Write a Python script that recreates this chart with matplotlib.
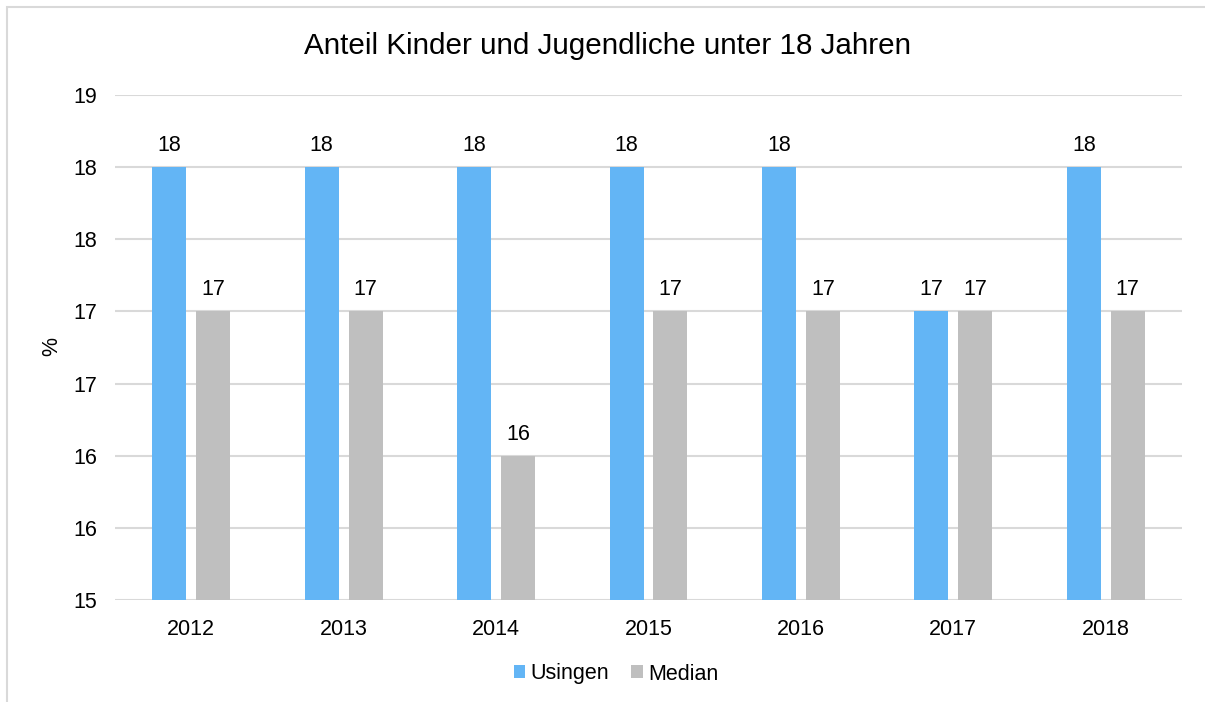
import matplotlib
matplotlib.use("Agg")
import matplotlib.pyplot as plt
from matplotlib.patches import Rectangle
import numpy as np

plt.rcParams['font.family'] = ['Liberation Sans', 'DejaVu Sans']

# Werte pro Jahr (Anteil in %)
jahre = ['2012', '2013', '2014', '2015', '2016', '2017', '2018']
usingen = [18.43, 18.43, 18.43, 18.43, 18.43, 17.29, 18.43]
median = [17.29, 17.29, 16.14, 17.29, 17.29, 17.29, 17.29]

blau = '#63B5F5'
grau = '#BFBFBF'

fig = plt.figure(figsize=(12.05, 7.02), dpi=100)
ax = fig.add_axes([115 / 1205, 1 - 600 / 702, 1067 / 1205, 505 / 702])

# heller Rahmen um das Diagramm
fig.patches.append(Rectangle((7 / 1205, -0.1), 1.2, 1 - 7 / 702 + 0.1,
                             transform=fig.transFigure, fill=False,
                             edgecolor='#D9D9D9', linewidth=1.5))

x = np.arange(len(jahre))
breite = 0.223
b1 = ax.bar(x - 0.144, usingen, breite, color=blau, label='Usingen', zorder=2)
b2 = ax.bar(x + 0.144, median, breite, color=grau, label='Median', zorder=2)

for bars in (b1, b2):
    for b in bars:
        ax.annotate('%.0f' % b.get_height(),
                    (b.get_x() + b.get_width() / 2, b.get_height()),
                    xytext=(0, 8), textcoords='offset points',
                    ha='center', va='bottom', fontsize=15.5)

ticks = np.linspace(15, 19, 8)
ax.set_ylim(15, 19)
ax.set_xlim(-0.5, len(jahre) - 0.5)
ax.set_yticks(ticks)
ax.set_yticklabels(['%.0f' % v for v in ticks])
ax.set_xticks(x)
ax.set_xticklabels(jahre)
ax.tick_params(axis='both', length=0, labelsize=15.5)
ax.tick_params(axis='x', pad=14)
ax.tick_params(axis='y', pad=13)
ax.grid(axis='y', color='#D9D9D9', linewidth=1.5, zorder=0)
for s in ax.spines.values():
    s.set_visible(False)

fig.text(52 / 1205, 1 - 347 / 702, '%', rotation=90, fontsize=15.5,
         ha='center', va='center')
fig.suptitle('Anteil Kinder und Jugendliche unter 18 Jahren', fontsize=21.3,
             x=608 / 1205, y=1 - 46 / 702, va='center')

fig.legend(loc='center', bbox_to_anchor=(616 / 1205, 1 - 674 / 702), ncol=2,
           frameon=False, fontsize=15.5, handlelength=0.55, handleheight=0.55,
           handletextpad=0.25, columnspacing=1.0)

fig.savefig('out.png', dpi=100)
